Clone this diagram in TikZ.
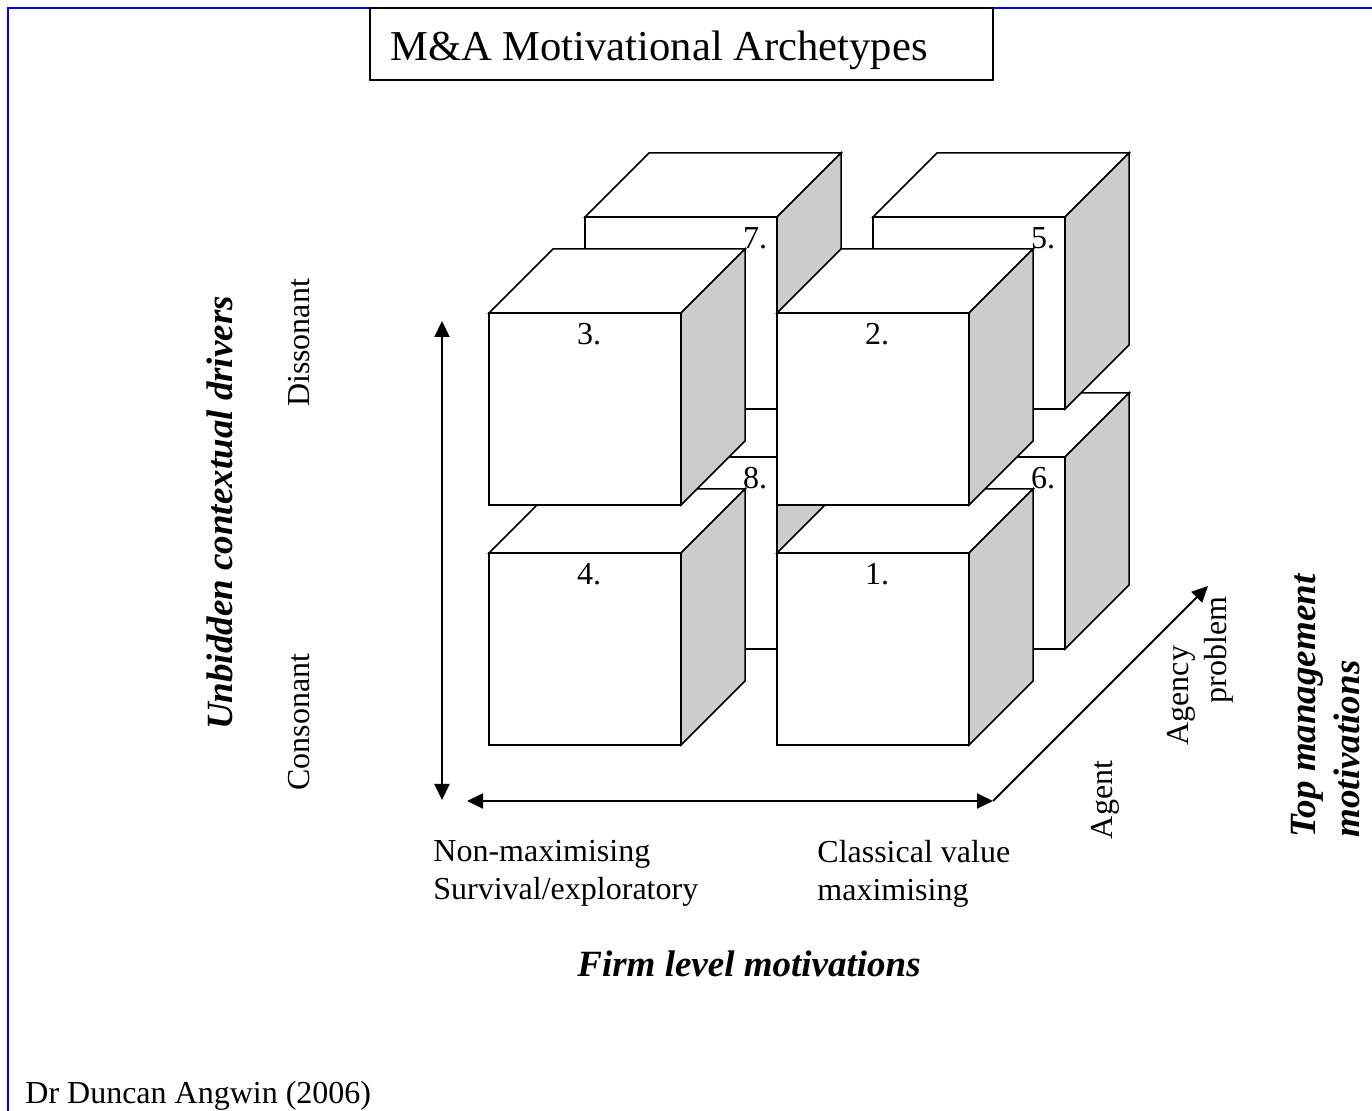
\documentclass[tikz,border=0pt]{standalone}
\usepackage{fontspec}
\setmainfont{Liberation Serif}
\usepackage{tikz}
\usetikzlibrary{arrows.meta}
\definecolor{sidegrey}{RGB}{204,204,204}
\definecolor{frameblue}{RGB}{0,0,255}
\tikzset{
  face/.style={draw, line width=0.75pt, fill=white},
  axis/.style={line width=1pt, {Triangle[length=8pt,width=7.5pt]}-{Triangle[length=8pt,width=7.5pt]}},
  label/.style={font=\fontsize{16pt}{19pt}\selectfont, inner sep=0pt},
  heading/.style={font=\fontsize{18.5pt}{22pt}\selectfont\bfseries\itshape, inner sep=0pt}
}

\begin{document}
\begin{tikzpicture}[x=0.5pt, y=-0.5pt]
  \useasboundingbox (0,0) rectangle (1372,1111);
  \draw[frameblue, line width=0.75pt] (8,1111) -- (8,8) -- (1372,8);
  \draw[line width=0.75pt] (370,8) rectangle (993,80);
  \node[anchor=west, inner sep=0pt, font=\fontsize{21.3pt}{25pt}\selectfont] (title) at (390,50) {M\&A Motivational Archetypes};

  \foreach \cx/\cy/\num/\lx in {585/457/8/170, 873/457/6/170, 585/217/7/170, 873/217/5/170,
                                489/553/4/100, 777/553/1/100, 489/313/3/100, 777/313/2/100}{
    \draw[face] (\cx,\cy) -- ++(64,-64) -- ++(192,0) -- ++(-64,64) -- cycle;
    \draw[face, fill=sidegrey] (\cx+192,\cy) -- ++(64,-64) -- ++(0,192) -- ++(-64,64) -- cycle;
    \draw[face] (\cx,\cy) rectangle ++(192,192);
    \node[label] (cube\num) at (\cx+\lx,\cy+21) {\num.};
  }

  \coordinate (vtop) at (442,321);
  \coordinate (vbot) at (442,800);
  \coordinate (hleft) at (467,801);
  \coordinate (corner) at (993,801);
  \coordinate (depth) at (1208,586);
  \draw[axis] (vtop) -- (vbot);
  \draw[axis] (hleft) -- (corner);
  \draw[axis, -{Triangle[length=8pt,width=7.5pt]}] (corner) -- (depth);

  \node[label, rotate=90] (dissonant) at (299,343) {Dissonant};
  \node[label, rotate=90] (consonant) at (299,722) {Consonant};
  \node[heading, rotate=90] (unbidden) at (220,513) {Unbidden contextual drivers};
  \node[label, align=left, anchor=north west] (nonmax) at (433,840) {Non-maximising\\Survival/exploratory};
  \node[label, align=left, anchor=north west] (classical) at (817,840) {Classical value\\maximising};
  \node[heading] (firm) at (749,964) {Firm level motivations};
  \node[label, rotate=90] (agent) at (1105,800) {Agent};
  \node[label, rotate=90, align=left] (agency) at (1200,671) {Agency\\\hspace*{21pt}problem};
  \node[heading, rotate=90, align=left] (topmgmt) at (1326,706) {Top management\\motivations};
  \node[label, anchor=west] (author) at (25,1096) {Dr Duncan Angwin (2006)};
\end{tikzpicture}
\end{document}
